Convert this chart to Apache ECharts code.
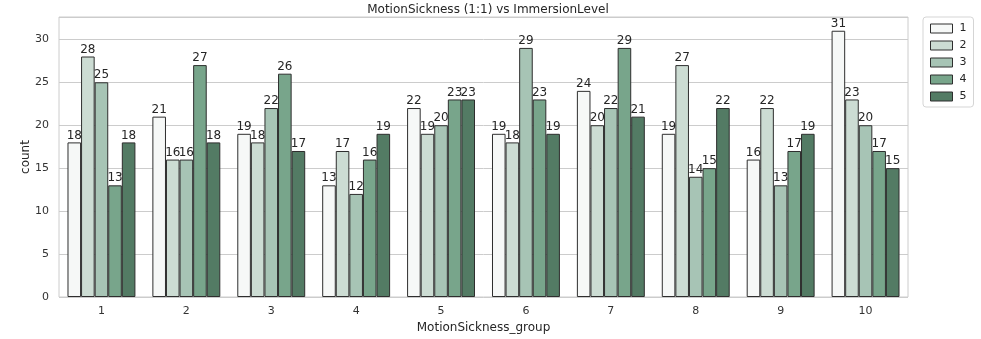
<!DOCTYPE html>
<html>
<head>
<meta charset="utf-8">
<script src="https://cdn.jsdelivr.net/npm/echarts@6/dist/echarts.min.js"></script>
<style>
  html, body { margin: 0; padding: 0; background: #fff; }
  #chart { width: 981px; height: 339px; }
</style>
</head>
<body>
<div id="chart"></div>
<script>
// Counts of respondents per motion-sickness group, split by immersion level
const groups = ['1', '2', '3', '4', '5', '6', '7', '8', '9', '10'];
const levels = ['1', '2', '3', '4', '5'];
const level1 = [18, 21, 19, 13, 22, 19, 24, 19, 16, 31];
const level2 = [28, 16, 18, 17, 19, 18, 20, 27, 22, 23];
const level3 = [25, 16, 22, 12, 20, 29, 22, 14, 13, 20];
const level4 = [13, 27, 26, 16, 23, 23, 29, 15, 17, 17];
const level5 = [18, 18, 17, 19, 23, 19, 21, 22, 19, 15];
const yTicks = [0, 5, 10, 15, 20, 25, 30];

const levelData = [level1, level2, level3, level4, level5];
const palette = ['#f6f8f7', '#ccdcd3', '#a7c4b5', '#78a58b', '#537b64'];
const font = 'DejaVu Sans';

const chart = echarts.init(document.getElementById('chart'), null, { renderer: 'canvas' });

chart.setOption({
  animation: false,
  textStyle: { fontFamily: font },
  title: {
    text: 'MotionSickness (1:1) vs ImmersionLevel',
    left: 483,
    textAlign: 'center',
    top: -1,
    textStyle: { fontFamily: font, fontSize: 12, fontWeight: 'normal', color: '#262626' }
  },
  legend: {
    orient: 'vertical',
    left: 923,
    top: 17,
    data: levels.map(n => ({ name: n, icon: 'rect', itemStyle: { borderWidth: 1 } })),
    itemWidth: 22,
    itemHeight: 9,
    itemGap: 6,
    padding: [6, 7, 5, 7],
    backgroundColor: '#fff',
    borderColor: '#d5d5d5',
    borderWidth: 1,
    borderRadius: 3,
    textStyle: { fontFamily: font, fontSize: 11, color: '#262626', padding: [0, 0, 0, 2] }
  },
  grid: {
    left: 59,
    right: 73,
    top: 17,
    bottom: 41,
    show: true,
    borderColor: '#cccccc',
    borderWidth: 1
  },
  xAxis: {
    type: 'category',
    data: groups,
    name: 'MotionSickness_group',
    nameLocation: 'middle',
    nameGap: 25,
    nameMoveOverlap: false,
    nameTextStyle: { fontFamily: font, fontSize: 12, color: '#262626' },
    axisLine: { show: false },
    axisTick: { show: false },
    splitLine: { show: false },
    axisLabel: { fontFamily: font, fontSize: 11, color: '#333', margin: 9 }
  },
  yAxis: {
    type: 'value',
    min: 0,
    max: 32.6,
    interval: 5,
    name: 'count',
    nameLocation: 'middle',
    nameGap: 27,
    nameMoveOverlap: false,
    nameTextStyle: { fontFamily: font, fontSize: 12, color: '#262626' },
    axisLine: { show: false },
    axisTick: { show: false },
    splitLine: { lineStyle: { color: '#cccccc', width: 1 } },
    axisLabel: {
      fontFamily: font, fontSize: 11, color: '#333', margin: 10,
      formatter: v => (yTicks.indexOf(v) >= 0 ? String(v) : '')
    }
  },
  series: levels.map((name, i) => ({
    name: name,
    type: 'bar',
    data: levelData[i],
    barGap: '0%',
    barCategoryGap: '20%',
    itemStyle: { color: palette[i], borderColor: '#2e2e2e', borderWidth: 1 },
    label: {
      show: true,
      position: 'top',
      distance: 1,
      fontFamily: font,
      fontSize: 12,
      color: '#262626'
    }
  }))
});
</script>
</body>
</html>
